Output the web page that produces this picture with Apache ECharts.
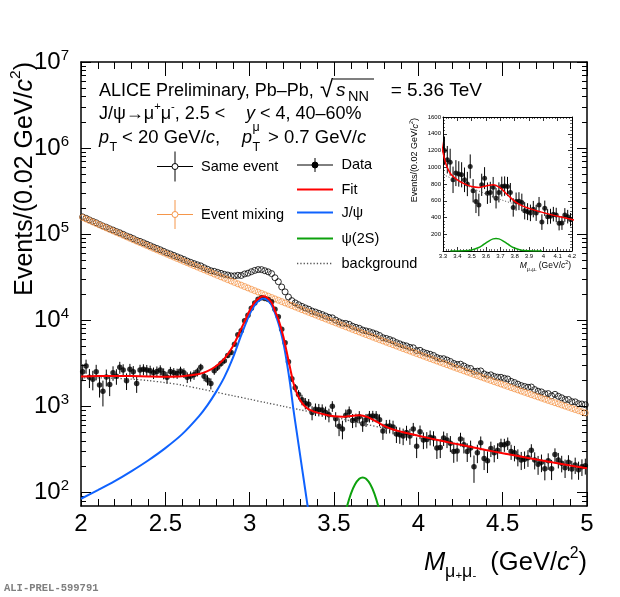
<!DOCTYPE html>
<html><head><meta charset="utf-8">
<script src="https://cdn.jsdelivr.net/npm/echarts@6/dist/echarts.min.js"></script>
<style>html,body{margin:0;padding:0;background:#fff}#c{width:620px;height:597px}</style>
</head><body><div id="c"></div>
<script>
const FONT = '"Liberation Sans", Arial, Helvetica, sans-serif';

// ---- histogram binning (0.02 GeV bins from 2 to 5 GeV/c2) ----
const binLow = 2.0, binWidth = 0.02, nBins = 150;
const binCenters = Array.from({length: nBins}, (_, i) => +(binLow + binWidth * (i + 0.5)).toFixed(2));

// ---- same-event spectrum ----
const sameEvent = [159030,153350,146700,140935,135960,129980,124730,120650,115650,111890,
107450,104000,99910,95510,92620,88990,85010,82640,79640,76650,
73760,70930,68430,66040,63410,60870,59040,56830,54750,52950,
50940,48860,47190,45610,44190,42960,40880,39240,37690,37120,
36100,35190,34270,33640,32900,32900,33400,33240,34610,35320,
36750,38030,38930,38870,37730,36610,34930,31280,28140,24430,
21450,18690,16950,15970,15200,14530,13960,13480,12830,12500,
12080,11690,11250,10840,10705,10082,9631,9281,9222,9013,
8554,8297,8099,7720,7550,7388,7171,6951,6673,6293,
6169,5988,5794,5520,5343,5165,5055,4860,4810,4464,
4493,4263,4142,4046,3918,3705,3601,3590,3468,3334,
3164,3077,3104,2958,2815,2765,2558,2573,2591,2391,
2308,2333,2235,2194,2185,2128,2088,1960,1899,1819,
1750,1709,1674,1685,1573,1506,1478,1405,1413,1332,
1385,1315,1263,1206,1206,1139,1133,1080,1069,1048];

// ---- event-mixing spectrum ----
const eventMixing = [156500,150400,144520,138870,133430,128200,123230,118450,113850,109430,
105200,101150,97260,93520,89920,86460,83160,79990,76940,74000,
71160,68470,65880,63390,60990,58690,56490,54370,52330,50370,
48480,46680,44940,43270,41660,40110,38630,37210,35840,34520,
33250,32040,30870,29740,28650,27600,26600,25640,24710,23820,
22950,22130,21330,20570,19830,19110,18430,17780,17140,16530,
15950,15390,14850,14320,13820,13330,12870,12420,11980,11570,
11160,10780,10400,10040,9695,9362,9041,8731,8432,8143,
7864,7597,7339,7090,6850,6618,6396,6181,5973,5773,
5579,5393,5214,5040,4873,4710,4555,4405,4260,4119,
3983,3853,3727,3606,3488,3375,3266,3160,3058,2959,
2864,2772,2684,2598,2515,2435,2358,2283,2211,2141,
2073,2008,1945,1884,1825,1768,1713,1660,1609,1559,
1510,1464,1419,1375,1333,1292,1253,1215,1178,1142,
1108,1075,1043,1011,981,951,923,895,869,843];

// ---- background-subtracted data ----
const dataVals = [2530,2950,2180,2070,2530,1780,1500,2200,1800,2460,
2250,2850,2650,1990,2700,2530,1850,2650,2700,2650,
2600,2460,2550,2650,2420,2180,2550,2460,2420,2580,
2460,2180,2250,2340,2530,2850,2250,2030,1850,2600,
2850,3150,3400,3900,4250,5300,6800,7600,9900,11500,
13800,15900,17600,18300,17900,17500,16500,13500,11000,7900,
5500,3300,2100,1650,1380,1200,1090,1060,850,930,
920,910,850,800,1010,720,590,550,790,870,
690,700,760,630,700,770,775,770,700,520,
590,595,580,480,470,455,500,455,550,345,
510,410,415,440,430,330,335,430,410,375,
300,305,420,360,300,330,200,290,380,250,
235,325,290,310,360,360,375,300,290,260,
240,245,255,310,240,214,225,190,235,190,
277,240,220,195,225,188,210,185,200,205];
const dataErr = [561,551,540,529,519,508,498,489,479,470,
461,453,444,435,427,419,410,403,396,388,
381,373,367,360,353,346,340,333,327,321,
315,309,304,298,293,288,282,276,271,268,
263,259,255,252,248,246,245,243,244,243,
244,245,245,244,240,236,231,221,213,202,
193,185,178,174,170,167,164,161,158,155,
152,150,147,145,143,139,137,134,133,131,
128,126,124,122,120,118,116,115,112,110,
108,107,105,103,101,99,98,96,95,93,
92,90,89,87,86,84,83,82,81,79,
78,76,76,75,73,72,70,70,69,67,
66,66,65,64,63,62,62,60,59,58,
57,56,56,55,54,53,52,51,51,50,
50,49,48,47,47,46,45,44,44,43];

// ---- fit components ----
const fitX = [2.0,2.1,2.2,2.3,2.4,2.5,2.6,2.7,2.75,2.8,2.85,2.9,2.95,2.975,3.0,3.03,3.06,3.08,3.1,3.13,3.15,3.17,3.2,3.22,3.24,3.26,3.28,3.3,3.32,3.34,3.36,3.4,3.45,3.5,3.55,3.6,3.65,3.7,3.75,3.8,3.85,3.9,3.95,4.0,4.1,4.2,4.3,4.4,4.5,4.6,4.7,4.8,4.9,5.0];
const fitY = [2235,2257,2266,2258,2238,2224,2248,2389,2579,2939,3594,4983,8019,10230,13045,16251,18368,19036,18555,16144,12923,10344,6455,4266,2788,1858,1423,1180,1042,959,907,850,802,769,759,777,792,753,672,593,541,509,482,458,414,376,343,313,287,264,243,224,207,192];
const jpsiX = [2.0,2.1,2.2,2.3,2.4,2.5,2.6,2.7,2.75,2.8,2.85,2.9,2.95,3.0,3.03,3.06,3.08,3.1,3.13,3.17,3.2,3.22,3.24,3.26,3.28,3.3,3.32,3.34,3.36];
const jpsiY = [85,107,136,178,238,329,478,774,1038,1469,2193,3648,6745,11830,15070,17220,17910,17450,15070,9310,5450,3280,1820,908,491,265,144,78,42];
const psi2sX = [3.35,3.4,3.45,3.5,3.55,3.575,3.6,3.625,3.65,3.67,3.69,3.715,3.74,3.765,3.79,3.84,3.89,3.94,3.99];
const psi2sY = [0.1,0.2,2,11.5,42,67,97,125,145,150,145,125,97,67,42,11.5,2,0.2,0.1];
const bgX = [2.0,2.1,2.2,2.3,2.4,2.5,2.6,2.7,2.8,2.9,3.0,3.1,3.2,3.3,3.4,3.5,3.6,3.7,3.8,3.9,4.0,4.1,4.2,4.3,4.4,4.5,4.6,4.7,4.8,4.9,5.0];
const bgY = [2150,2150,2130,2080,2000,1895,1770,1615,1470,1335,1215,1105,1005,915,835,755,680,615,560,507,458,414,376,343,313,287,264,243,224,207,192];

// ---- axis ticks ----
const yMajorTicks = [100,1000,10000,100000,1000000,10000000];
const yMinorTicks = [80,90,200,300,400,500,600,700,800,900,2000,3000,4000,5000,6000,7000,8000,9000,
20000,30000,40000,50000,60000,70000,80000,90000,200000,300000,400000,500000,600000,700000,800000,900000,
2000000,3000000,4000000,5000000,6000000,7000000,8000000,9000000];
const insetXTicks = [3.3,3.4,3.5,3.6,3.7,3.8,3.9,4.0,4.1,4.2];
const insetYTicks = [200,400,600,800,1000,1200,1400,1600];

const COL = {red:'#ff0000', blue:'#0f62fe', green:'#0da10d', orange:'#f5964a', bg:'#555555'};

const pairs = (xs, ys) => xs.map((x, i) => [x, ys[i]]);
const sameData = pairs(binCenters, sameEvent);
const mixData = pairs(binCenters, eventMixing);
const dataPts = pairs(binCenters, dataVals);
const dataErrPts = binCenters.map((x, i) => [x, dataVals[i], dataErr[i]]);

function errRender(params, api) {
  const x = api.value(0), y = api.value(1), e = api.value(2);
  const p1 = api.coord([x, Math.max(y - e, 1)]);
  const p2 = api.coord([x, y + e]);
  return {type: 'line', shape: {x1: p1[0], y1: p1[1], x2: p2[0], y2: p2[1]},
    style: {stroke: '#000', lineWidth: 1}};
}

function yLog(pos, custom, len, line, label) {
  return {
    gridIndex: 0, type: 'log', logBase: 10, min: 70, max: 1e7, position: pos,
    axisLine: {show: line, onZero: false, lineStyle: {color: '#000', width: 1.5}},
    axisTick: {show: true, inside: true, length: len, customValues: custom, lineStyle: {color: '#000', width: 1}},
    minorTick: {show: false}, splitLine: {show: false},
    axisLabel: label ? {
      show: true, customValues: yMajorTicks, margin: 12,
      formatter: v => '{b|10}{s|' + Math.round(Math.log10(v)) + '}',
      rich: {
        b: {fontSize: 24, lineHeight: 28, fontFamily: FONT, color: '#000'},
        s: {fontSize: 15, lineHeight: 15, verticalAlign: 'top', fontFamily: FONT, color: '#000'}
      }
    } : {show: false}
  };
}
function xMain(pos, label) {
  return {
    gridIndex: 0, type: 'value', min: 2, max: 5, interval: 0.5, position: pos,
    axisLine: {show: true, onZero: false, lineStyle: {color: '#000', width: 1.5}},
    axisTick: {show: true, inside: true, length: 14, lineStyle: {color: '#000', width: 1}},
    minorTick: {show: true, splitNumber: 5, length: 7, lineStyle: {color: '#000', width: 1}},
    splitLine: {show: false},
    axisLabel: label ? {show: true, fontSize: 24, fontFamily: FONT, color: '#000', margin: 6, showMinLabel: true, showMaxLabel: true} : {show: false}
  };
}
function xInset(pos, label) {
  return {
    gridIndex: 1, type: 'value', min: 3.3, max: 4.2, interval: 0.1, position: pos,
    axisLine: {show: true, onZero: false, lineStyle: {color: '#000', width: 1}},
    axisTick: {show: true, inside: true, length: 4, lineStyle: {color: '#000', width: 0.8}},
    minorTick: {show: true, splitNumber: 5, length: 2, lineStyle: {color: '#000', width: 0.6}},
    splitLine: {show: false},
    axisLabel: label ? {show: true, customValues: insetXTicks, fontSize: 6, fontFamily: FONT, color: '#000', margin: 2,
      formatter: v => String(Math.round(v * 10) / 10)} : {show: false}
  };
}
function yInset(pos, label) {
  return {
    gridIndex: 1, type: 'value', min: 0, max: 1600, interval: 200, position: pos,
    axisLine: {show: true, onZero: false, lineStyle: {color: '#000', width: 1}},
    axisTick: {show: true, inside: true, length: 4, lineStyle: {color: '#000', width: 0.8}},
    minorTick: {show: true, splitNumber: 5, length: 2, lineStyle: {color: '#000', width: 0.6}},
    splitLine: {show: false},
    axisLabel: label ? {show: true, customValues: insetYTicks, fontSize: 6, fontFamily: FONT, color: '#000', margin: 2,
      formatter: v => String(Math.round(v))} : {show: false}
  };
}

function mkRich(s, subScale) {
  const ss = subScale || 0.62;
  return {
    n: {fontSize: s, lineHeight: s * 1.4, fontFamily: FONT, fill: '#000'},
    i: {fontSize: s, lineHeight: s * 1.4, fontFamily: FONT, fontStyle: 'italic', fill: '#000'},
    sup: {fontSize: s * 0.62, lineHeight: s * 0.62, verticalAlign: 'top', fontFamily: FONT, fill: '#000'},
    sub: {fontSize: s * ss, lineHeight: s * ss, verticalAlign: 'bottom', fontFamily: FONT, fill: '#000'},
    ss: {fontSize: s * 0.45, lineHeight: s * 0.98, verticalAlign: 'bottom', fontFamily: FONT, fill: '#000'}
  };
}
function txt(x, y, text, size, extra, elExtra) {
  return Object.assign({type: 'text', x: x, y: y, silent: true, z: 100,
    style: Object.assign({text: text, fill: '#000', font: size + 'px ' + FONT, align: 'left', verticalAlign: 'middle'}, extra || {})}, elExtra || {});
}
function itxt(x, y, text, size, extra) {
  return txt(x, y, text, size, Object.assign({font: 'italic ' + size + 'px ' + FONT}, extra || {}));
}
function rtxt(x, y, text, size, extra, elExtra, subScale) {
  return txt(x, y, text, size, Object.assign({rich: mkRich(size, subScale)}, extra || {}), elExtra);
}
function gline(x1, y1, x2, y2, color, w, dash) {
  return {type: 'line', silent: true, z: 100, shape: {x1, y1, x2, y2},
    style: {stroke: color, lineWidth: w, lineDash: dash || null}};
}
function gcirc(cx, cy, r, fill, stroke) {
  return {type: 'circle', silent: true, z: 101, shape: {cx, cy, r}, style: {fill: fill, stroke: stroke, lineWidth: 1}};
}

const graphics = [
  // header
  txt(99, 91, 'ALICE Preliminary, Pb\u2013Pb,', 18),
  txt(320, 90, '\u221A', 24),
  gline(333, 79, 374, 79, '#000', 1.2),
  itxt(336, 91, 's', 19),
  txt(348, 97, 'NN', 14.5),
  txt(482, 91, '= 5.36 TeV', 19, {align: 'right'}),
  rtxt(99, 114, '{n|J/\u03C8\u2192\u03BC}{sup|+}{n|\u03BC}{sup|-}{n|, 2.5 <}', 18),
  rtxt(246, 114, '{i|y}{n| < 4, 40\u201360%}', 18),
  itxt(99, 137.5, 'p', 18),
  txt(109.5, 148, 'T', 12.5),
  rtxt(122, 137.5, '{n|< 20 GeV/}{i|c}{n|,}', 18.5),
  itxt(242, 137.5, 'p', 18),
  txt(252.5, 148, 'T', 12.5),
  txt(252.5, 128, '\u03BC', 12.5),
  rtxt(268, 137.5, '{n|> 0.7 GeV/}{i|c}', 18.5),
  // legend left column
  gline(157, 166.5, 193, 166.5, '#000', 1),
  gline(175, 151.5, 175, 181.5, '#000', 1),
  gcirc(175, 166.5, 3, '#fff', '#000'),
  txt(201, 166.5, 'Same event', 14.5),
  gline(157, 214.5, 193, 214.5, COL.orange, 1),
  gline(175, 200, 175, 229, COL.orange, 1),
  gcirc(175, 214.5, 3, '#fff', COL.orange),
  txt(201, 214.5, 'Event mixing', 14.5),
  // legend right column
  gline(297, 165, 333, 165, '#000', 1),
  gline(315, 158, 315, 172, '#000', 1),
  gcirc(315, 165, 3, '#000', '#000'),
  txt(341.5, 165, 'Data', 14.5),
  gline(297, 189.5, 333, 189.5, COL.red, 2),
  txt(341.5, 189.5, 'Fit', 14.5),
  gline(297, 212.5, 333, 212.5, COL.blue, 2),
  txt(341.5, 212.5, 'J/\u03C8', 14.5),
  gline(297, 238.5, 333, 238.5, COL.green, 2),
  txt(341.5, 238.5, '\u03C8(2S)', 14.5),
  gline(297, 263.5, 333, 263.5, COL.bg, 1.3, [1.3, 2]),
  txt(341.5, 263.5, 'background', 14.5),
  // axis titles
  rtxt(587, 563, '{i|M}{sub|\u03BC}{ss|+}{sub|\u03BC}{ss|-}{n|  (GeV/}{i|c}{sup|2}{n|)}', 25.5, {align: 'right'}, null, 0.7),
  rtxt(25, 62, '{n|Events/(0.02 GeV/}{i|c}{sup|2}{n|)}', 25, {align: 'right'}, {rotation: Math.PI / 2}),
  rtxt(571, 266, '{i|M}{sub|\u03BC}{ss|+}{sub|\u03BC}{ss|-}{n| (GeV/}{i|c}{sup|2}{n|)}', 8.5, {align: 'right'}),
  rtxt(415, 118, '{n|Events/(0.02 GeV/}{i|c}{sup|2}{n|)}', 9, {align: 'right'}, {rotation: Math.PI / 2}),
  // preliminary id
  txt(4, 588, 'ALI-PREL-599791', 10.5, {font: 'bold 10.5px "Liberation Mono", "DejaVu Sans Mono", monospace', fill: '#7f7f7f'})
];

const chart = echarts.init(document.getElementById('c'), null, {renderer: 'canvas'});
chart.setOption({
  animation: false,
  backgroundColor: '#fff',
  grid: [
    {left: 81, top: 62, width: 506, height: 444, containLabel: false, outerBoundsMode: 'none'},
    {left: 443, top: 117, width: 129, height: 134, containLabel: false, outerBoundsMode: 'none'}
  ],
  xAxis: [xMain('bottom', true), xMain('top', false), xInset('bottom', true), xInset('top', false)],
  yAxis: [
    yLog('left', yMajorTicks, 10, true, true),
    yLog('left', yMinorTicks, 5, false, false),
    yLog('right', yMajorTicks, 10, true, false),
    yLog('right', yMinorTicks, 5, false, false),
    yInset('left', true),
    yInset('right', false)
  ],
  series: [
    {type: 'scatter', name: 'Same event', xAxisIndex: 0, yAxisIndex: 0, data: sameData, symbol: 'circle', symbolSize: 6,
      itemStyle: {color: 'rgba(0,0,0,0)', borderColor: '#000', borderWidth: 1}, clip: true, silent: true, z: 2},
    {type: 'scatter', name: 'Event mixing', xAxisIndex: 0, yAxisIndex: 0, data: mixData, symbol: 'circle', symbolSize: 6,
      itemStyle: {color: 'rgba(0,0,0,0)', borderColor: COL.orange, borderWidth: 1}, clip: true, silent: true, z: 2},
    {type: 'custom', name: 'Data errors', xAxisIndex: 0, yAxisIndex: 0, data: dataErrPts, renderItem: errRender,
      encode: {x: 0, y: 1}, clip: true, silent: true, z: 3},
    {type: 'scatter', name: 'Data', xAxisIndex: 0, yAxisIndex: 0, data: dataPts, symbol: 'circle', symbolSize: 5.5,
      itemStyle: {color: '#000'}, clip: true, silent: true, z: 3},
    {type: 'line', name: 'background', xAxisIndex: 0, yAxisIndex: 0, data: pairs(bgX, bgY), showSymbol: false, smooth: 0.3,
      lineStyle: {color: COL.bg, width: 1.3, type: [1.3, 2]}, clip: true, silent: true, z: 4},
    {type: 'line', name: 'psi(2S)', xAxisIndex: 0, yAxisIndex: 0, data: pairs(psi2sX, psi2sY), showSymbol: false, smooth: 0.3,
      lineStyle: {color: COL.green, width: 2}, clip: true, silent: true, z: 4},
    {type: 'line', name: 'J/psi', xAxisIndex: 0, yAxisIndex: 0, data: pairs(jpsiX, jpsiY), showSymbol: false, smooth: 0.3,
      lineStyle: {color: COL.blue, width: 2}, clip: true, silent: true, z: 5},
    {type: 'line', name: 'Fit', xAxisIndex: 0, yAxisIndex: 0, data: pairs(fitX, fitY), showSymbol: false, smooth: 0.3,
      lineStyle: {color: COL.red, width: 2}, clip: true, silent: true, z: 6},
    // inset
    {type: 'custom', xAxisIndex: 2, yAxisIndex: 4, data: dataErrPts, renderItem: errRender,
      encode: {x: 0, y: 1}, clip: true, silent: true, z: 3},
    {type: 'scatter', xAxisIndex: 2, yAxisIndex: 4, data: dataPts, symbol: 'circle', symbolSize: 5,
      itemStyle: {color: '#000'}, clip: true, silent: true, z: 3},
    {type: 'line', xAxisIndex: 2, yAxisIndex: 4, data: pairs(bgX, bgY), showSymbol: false, smooth: 0.3,
      lineStyle: {color: COL.bg, width: 1, type: [1, 1.8]}, clip: true, silent: true, z: 4},
    {type: 'line', xAxisIndex: 2, yAxisIndex: 4, data: pairs(psi2sX, psi2sY), showSymbol: false, smooth: 0.3,
      lineStyle: {color: COL.green, width: 1.5}, clip: true, silent: true, z: 4},
    {type: 'line', xAxisIndex: 2, yAxisIndex: 4, data: pairs(fitX, fitY), showSymbol: false, smooth: 0.3,
      lineStyle: {color: COL.red, width: 1.5}, clip: true, silent: true, z: 6}
  ],
  graphic: graphics
});
</script></body></html>
